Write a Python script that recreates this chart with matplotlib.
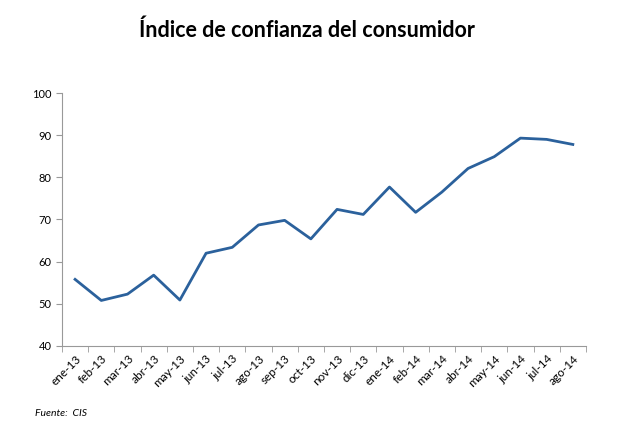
import numpy as np
import matplotlib.pyplot as plt
from matplotlib.ticker import FixedLocator

meses = ['ene-13', 'feb-13', 'mar-13', 'abr-13', 'may-13', 'jun-13', 'jul-13',
         'ago-13', 'sep-13', 'oct-13', 'nov-13', 'dic-13', 'ene-14', 'feb-14',
         'mar-14', 'abr-14', 'may-14', 'jun-14', 'jul-14', 'ago-14']
indice = [55.8, 50.8, 52.3, 56.8, 50.9, 62.0, 63.4, 68.7, 69.8, 65.4,
          72.4, 71.2, 77.7, 71.7, 76.5, 82.1, 84.9, 89.3, 89.0, 87.8]

plt.rcParams['font.family'] = ['Lato', 'DejaVu Sans']

fig = plt.figure(figsize=(6.23, 4.48), dpi=100)
ax = fig.add_axes([0.0995, 0.2277, 0.841, 0.5647])

x = np.arange(len(meses))
ax.plot(x, indice, color='#2b619c', linewidth=2)

ax.set_xlim(-0.5, len(meses) - 0.5)
ax.set_ylim(40, 100)
ax.set_yticks(range(40, 101, 10))

# etiquetas en el centro, marcas entre categorias
ax.set_xticks(x)
ax.set_xticklabels(meses, rotation=45, ha='right', rotation_mode='anchor', fontsize=8.5)
ax.tick_params(axis='x', which='major', length=0, pad=5)
ax.xaxis.set_minor_locator(FixedLocator(np.arange(-0.5, len(meses), 1)))
ax.tick_params(axis='x', which='minor', length=4, color='#999999', direction='out')
ax.tick_params(axis='y', length=4, color='#999999', labelsize=8)

for s in ['top', 'right']:
    ax.spines[s].set_visible(False)
for s in ['left', 'bottom']:
    ax.spines[s].set_color('#999999')

fig.text(0.493, 0.932, 'Índice de confianza del consumidor', ha='center', va='center',
         fontsize=15.5, fontweight='bold')
fig.text(0.056, 0.072, 'Fuente:  CIS', fontsize=7.5, style='italic')

fig.savefig('out.png', dpi=100)
